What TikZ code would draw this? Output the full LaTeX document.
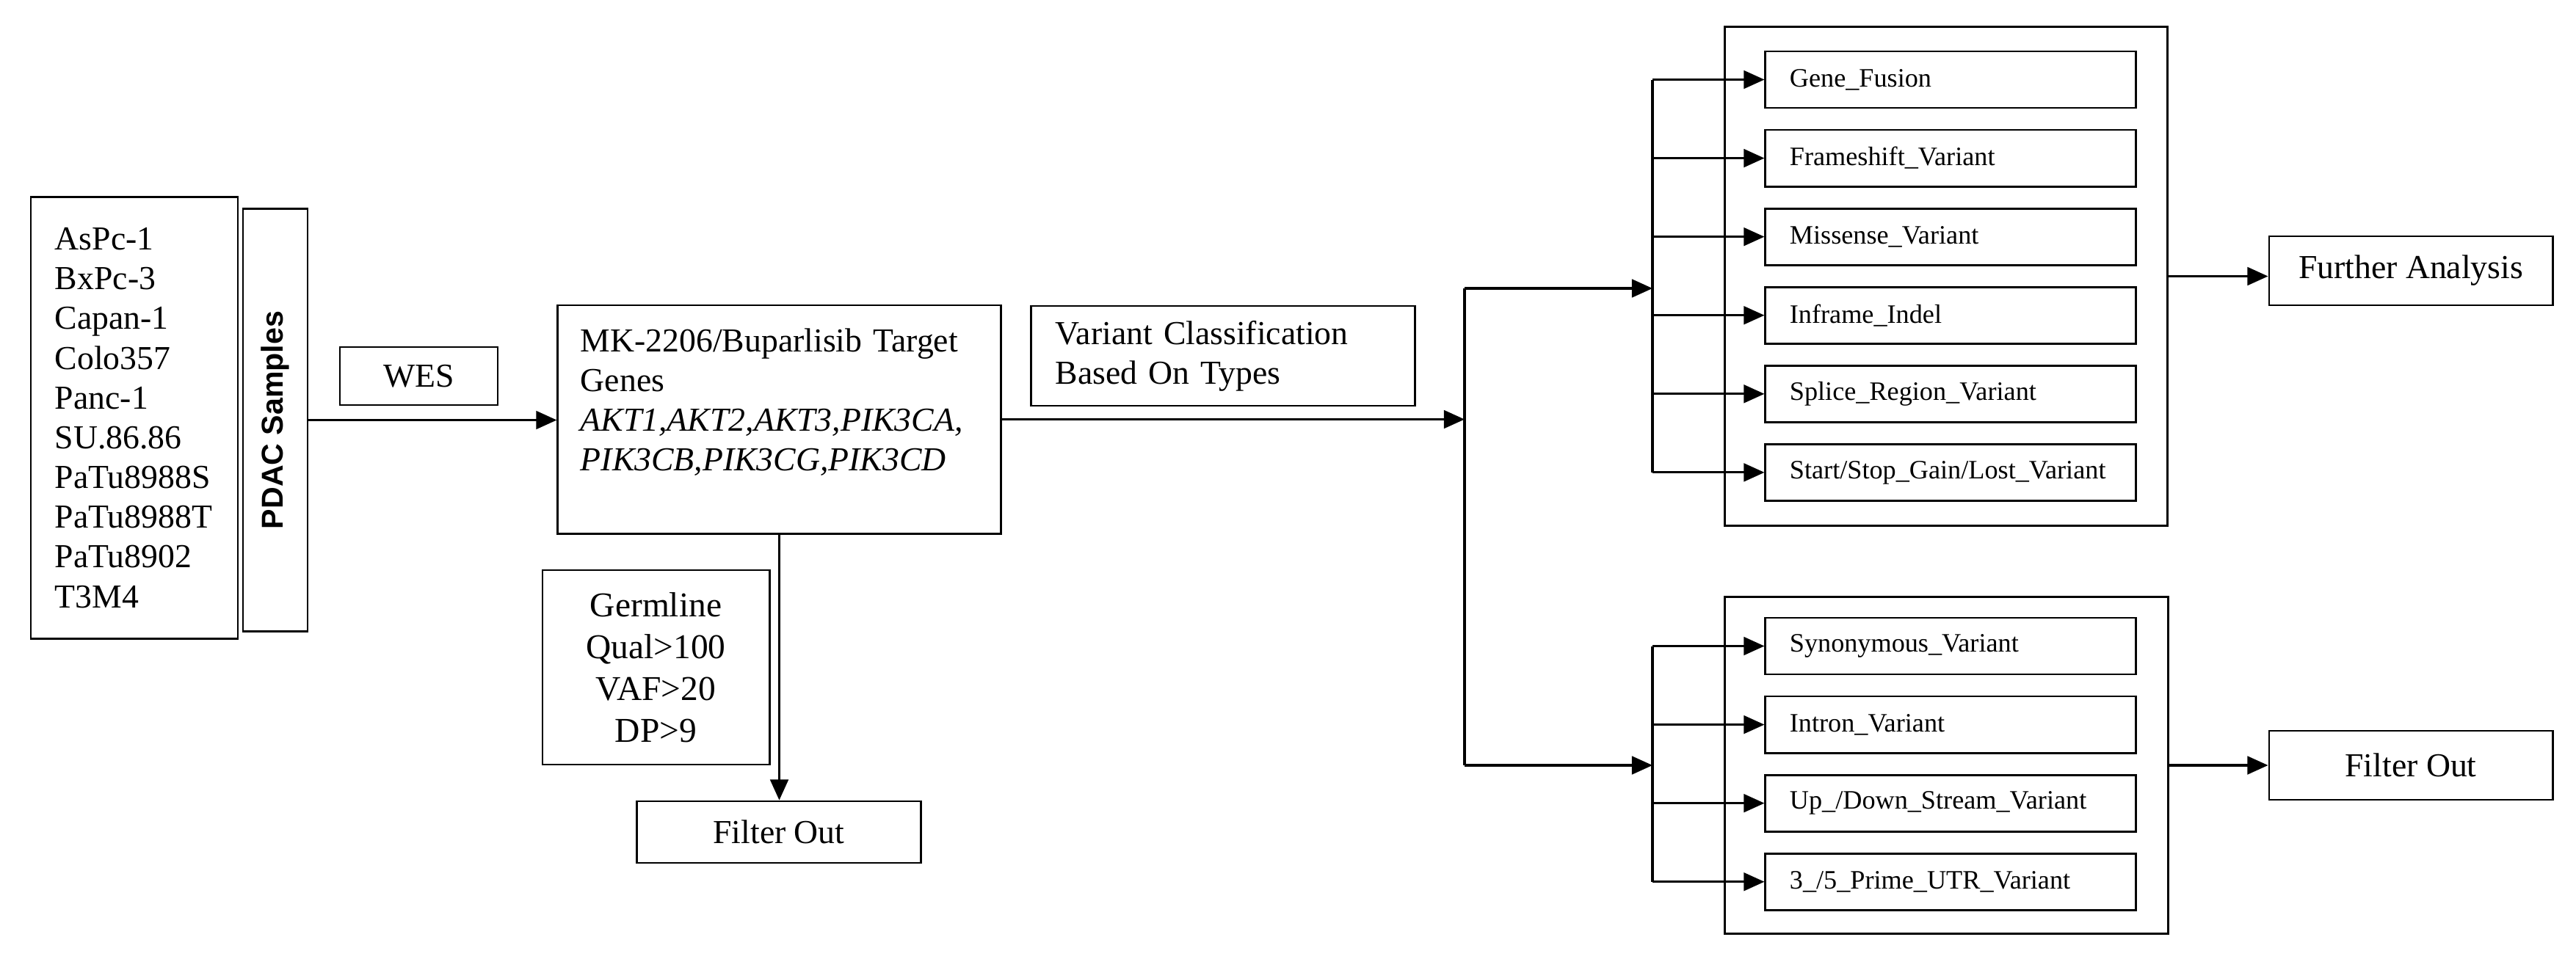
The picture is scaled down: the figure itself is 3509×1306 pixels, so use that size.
\documentclass[tikz,border=0pt]{standalone}
\usepackage{fontspec}
\setmainfont{Liberation Serif}
\setsansfont{Liberation Sans}
\usetikzlibrary{positioning,arrows.meta}

\begin{document}
\begin{tikzpicture}[
    x=0.01cm,
    y=-0.01cm,
    node distance=0.272cm,
    box/.style={
        draw,
        line width=0.8pt,
        inner sep=0pt,
        align=center,
        font=\fontsize{13}{15.4}\selectfont
    },
    typebox/.style={
        box,
        minimum width=5.04cm,
        minimum height=0.77cm,
        text width=4.38cm,
        align=left,
        font=\fontsize{10.3}{12}\selectfont
    },
    arrow/.style={
        -{Triangle[length=8pt,width=7pt]},
        line width=0.9pt
    }
]
\useasboundingbox (0,0) rectangle (3509,1306);

\node[box, minimum width=2.82cm, minimum height=6.01cm, text width=2.16cm, align=left] (samples) at (183,569.5)
    {AsPc-1\\BxPc-3\\Capan-1\\Colo357\\Panc-1\\SU.86.86\\PaTu8988S\\PaTu8988T\\PaTu8902\\T3M4};
\node[box, minimum width=0.88cm, minimum height=5.75cm, font=\sffamily\bfseries\fontsize{11.7}{14}\selectfont] (pdac) at (375,572.5)
    {\rotatebox{90}{PDAC Samples}};
\node[box, minimum width=2.15cm, minimum height=0.79cm] (wes) at (570.5,512.5) {WES};
\node[box, minimum width=6.03cm, minimum height=3.11cm, text width=5.41cm, align=left] (target) at (1061.5,571.5)
    {MK-2206/Buparlisib Target\\Genes\\\textit{AKT1,AKT2,AKT3,PIK3CA,}\\\textit{PIK3CB,PIK3CG,PIK3CD}\\~};
\node[box, minimum width=5.22cm, minimum height=1.36cm, text width=4.56cm, align=left] (varclass) at (1666,485)
    {Variant Classification\\Based On Types};
\node[box, minimum width=3.09cm, minimum height=2.65cm, font=\fontsize{13.5}{16.2}\selectfont] (germline) at (893.5,909.5)
    {Germline\\Qual>100\\VAF>20\\DP>9};
\node[box, minimum width=3.86cm, minimum height=0.84cm] (filtera) at (1061,1134) {Filter Out};

\node[box, minimum width=6.02cm, minimum height=6.79cm] (passgroup) at (2651,376.5) {};
\node[box, minimum width=6.03cm, minimum height=4.58cm] (dropgroup) at (2651.5,1043) {};

\node[typebox] (fusion) at (2657,108.5) {Gene\_Fusion};
\node[typebox, below=of fusion] (frameshift) {Frameshift\_Variant};
\node[typebox, below=of frameshift] (missense) {Missense\_Variant};
\node[typebox, below=of missense] (inframe) {Inframe\_Indel};
\node[typebox, below=of inframe] (splice) {Splice\_Region\_Variant};
\node[typebox, below=of splice] (startstop) {Start/Stop\_Gain/Lost\_Variant};

\node[typebox] (synonymous) at (2657,880.5) {Synonymous\_Variant};
\node[typebox, below=of synonymous] (intron) {Intron\_Variant};
\node[typebox, below=of intron] (stream) {Up\_/Down\_Stream\_Variant};
\node[typebox, below=of stream] (utr) {3\_/5\_Prime\_UTR\_Variant};

\node[box, minimum width=3.86cm, minimum height=0.94cm] (further) at (3284,369) {Further Analysis};
\node[box, minimum width=3.86cm, minimum height=0.94cm] (filterb) at (3284,1043) {Filter Out};

\coordinate (split) at (1995,571.5);
\coordinate (splitup) at (1995,393);
\coordinate (splitdown) at (1995,1043);
\coordinate (passbus) at (2251,393);
\coordinate (dropbus) at (2251,1043);

\draw[arrow] (pdac.east) -- (pdac.east -| target.west);
\draw[arrow] (target.south) -- (target.south |- filtera.north);
\draw[arrow] (target.east) -- (split);
\draw[line width=0.9pt] (splitup) -- (splitdown);
\draw[arrow] (splitup) -- (passbus);
\draw[arrow] (splitdown) -- (dropbus);

\draw[line width=0.9pt] (passbus |- fusion.west) -- (passbus |- startstop.west);
\foreach \t in {fusion,frameshift,missense,inframe,splice,startstop}
    \draw[arrow] (passbus |- \t.west) -- (\t.west);
\draw[line width=0.9pt] (dropbus |- synonymous.west) -- (dropbus |- utr.west);
\foreach \t in {synonymous,intron,stream,utr}
    \draw[arrow] (dropbus |- \t.west) -- (\t.west);

\draw[arrow] (passgroup.east) -- (passgroup.east -| further.west);
\draw[arrow] (dropgroup.east) -- (filterb.west);

\end{tikzpicture}
\end{document}
